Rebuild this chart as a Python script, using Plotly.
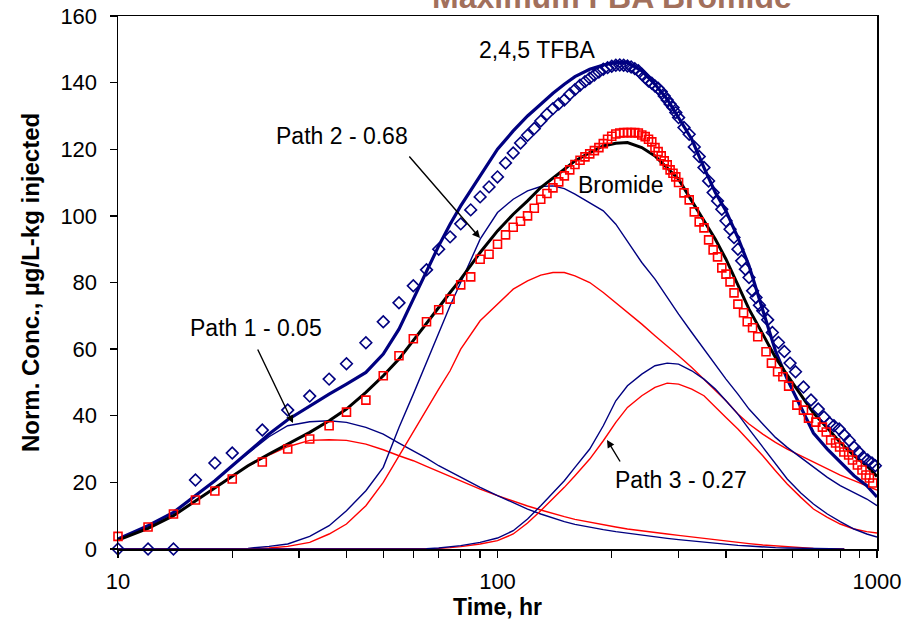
import plotly.graph_objects as go

# ---------------- data ----------------
# observed 2,4,5 TFBA (diamonds)
tfba_obs_t = [10, 12, 14, 16, 18, 20, 24, 28, 32, 36,
              40, 45, 50, 55, 60, 65, 70, 75, 80, 85,
              90, 95, 100, 105, 110, 115, 120, 125, 130, 135,
              140, 145, 150, 155, 160, 165, 170, 175, 180, 185,
              190, 195, 200, 205, 210, 215, 220, 225, 230, 235,
              240, 245, 250, 255, 260, 265, 270, 275, 280, 285,
              290, 295, 300, 310, 320, 330, 340, 350, 360, 370,
              380, 390, 400, 410, 420, 430, 440, 450, 460, 470,
              480, 490, 500, 515, 530, 550, 570, 590, 610, 640,
              670, 700, 725, 750, 770, 795, 820, 845, 870, 895,
              920, 945, 970, 990]
tfba_obs = [0, 0, 0, 20.7, 25.8, 28.8, 35.7, 41.7, 45.9, 51.0,
            55.6, 61.9, 68.2, 73.9, 79.0, 83.8, 90.0, 93.7, 97.6, 101.8,
            105.7, 108.7, 111.7, 115.9, 118.9, 121.9, 124.2, 126.2, 128.5, 130.5,
            132.2, 133.6, 134.8, 136.5, 137.9, 139.2, 140.3, 141.3, 142.3, 143.2,
            144.0, 144.5, 144.9, 145.2, 145.3, 145.2, 145.0, 144.7, 144.2, 143.6,
            142.5, 141.5, 140.5, 139.8, 139.0, 138.3, 137.3, 136.0, 134.8, 133.6,
            132.5, 131.0, 129.5, 126.5, 124.5, 120.7, 117.8, 114.5, 110.5, 107.0,
            104.5, 102.0, 98.5, 96.0, 93.5, 90.0, 86.5, 84.0, 81.5, 77.5,
            75.5, 73.2, 71.5, 68.8, 65.0, 62.0, 59.3, 55.8, 53.2, 48.6,
            44.7, 42.0, 39.6, 37.8, 37.0, 36.0, 34.2, 32.6, 30.6, 29.1,
            27.6, 26.7, 25.8, 25.0]

# observed bromide (squares)
br_obs_t = [10, 12, 14, 16, 18, 20, 24, 28, 32, 36,
            40, 45, 50, 55, 60, 65, 70, 75, 80, 85,
            90, 95, 100, 105, 110, 115, 120, 125, 130, 135,
            140, 145, 150, 155, 160, 165, 170, 175, 180, 185,
            190, 195, 200, 205, 210, 215, 220, 225, 230, 235,
            240, 245, 250, 255, 260, 265, 270, 275, 280, 285,
            290, 295, 300, 310, 320, 330, 340, 350, 360, 370,
            380, 390, 400, 410, 420, 430, 445, 455, 470, 485,
            510, 527, 547, 565, 585, 615, 640, 660, 690, 718,
            735, 755, 778, 797, 818, 842, 862, 888, 913, 935,
            955, 975]
br_obs = [3.8, 6.6, 10.5, 14.7, 17.4, 21.0, 26.1, 30.0, 33.0, 37.0,
          41.1, 44.7, 52.0, 58.0, 63.1, 68.2, 71.8, 75.0, 79.3, 81.7,
          87.0, 88.5, 91.5, 94.3, 96.6, 98.4, 100.0, 102.3, 105.0, 106.7,
          108.4, 110.2, 112.0, 113.8, 115.4, 116.7, 117.7, 118.6, 119.6, 120.5,
          121.7, 123.0, 123.9, 124.6, 124.9, 125.0, 125.0, 125.0, 125.0, 124.9,
          124.3, 123.8, 123.0, 122.2, 120.5, 119.3, 118.0, 116.5, 115.3, 113.8,
          112.8, 111.7, 110.0, 106.9, 104.8, 101.2, 98.2, 96.4, 92.8, 89.8,
          87.7, 84.4, 82.5, 80.2, 76.9, 73.5, 70.9, 68.2, 66.4, 63.7,
          59.2, 55.8, 53.2, 51.7, 48.9, 43.2, 41.7, 39.3, 38.1, 36.6,
          35.1, 32.7, 31.8, 30.6, 29.1, 28.2, 26.7, 25.2, 23.7, 22.2,
          21.3, 19.8]

# model curves
model_t = [10, 12, 14, 16, 18, 20, 22, 25,
           28, 32, 36, 40, 45, 50, 55, 60,
           65, 70, 75, 80, 90, 100, 110, 120,
           130, 140, 150, 160, 175, 190, 205, 220,
           240, 260, 280, 300, 325, 350, 375, 400,
           430, 460, 500, 540, 580, 630, 680, 740,
           800, 870, 940, 1000]
tfba_total = [3.0, 7.0, 11.0, 16.0, 20.5, 25.0, 29.0, 34.5,
              38.8, 43.0, 46.5, 49.5, 53.0, 58.5, 66.0, 75.0,
              83.5, 91.0, 97.5, 103.0, 112.0, 120.0, 125.5, 130.0,
              133.5, 136.8, 139.5, 141.8, 144.0, 145.3, 146.0, 146.0,
              143.5, 139.5, 135.0, 129.5, 123.0, 114.5, 107.0, 101.5,
              93.5, 85.0, 72.0, 59.5, 51.0, 42.5, 34.8, 30.0,
              26.0, 22.0, 19.0, 15.6]
br_total = [2.7, 6.2, 10.0, 14.5, 18.5, 22.0, 25.0, 28.5,
            31.5, 35.0, 38.5, 42.0, 47.0, 52.0, 57.0, 62.5,
            67.5, 72.5, 77.0, 81.0, 89.0, 95.5, 100.5, 104.5,
            108.5, 111.5, 114.0, 116.5, 119.0, 121.0, 121.8, 122.0,
            120.5, 118.0, 114.5, 111.0, 104.5, 98.5, 93.0, 87.0,
            79.5, 72.0, 64.5, 57.5, 52.2, 46.2, 40.8, 36.3,
            32.0, 28.0, 25.0, 21.8]
tfba_p2 = [0, 0, 0, 0, 0, 0, 0.2, 0.8,
           1.5, 3.8, 7.0, 11.5, 17.5, 24.5, 36.5, 46.5,
           56.0, 65.0, 73.0, 80.0, 93.0, 101.0, 105.0, 107.5,
           108.8, 109.0, 108.2, 106.5, 104.0, 101.5, 97.5, 92.5,
           86.0, 81.0, 75.5, 70.5, 65.0, 60.0, 55.0, 51.0,
           46.5, 42.0, 37.5, 33.5, 30.5, 27.5, 24.5, 21.5,
           19.0, 17.0, 15.0, 13.0]
br_p2 = [0, 0, 0, 0, 0, 0, 0.1, 0.3,
         0.8, 2.0, 4.5, 7.5, 13.0, 20.0, 28.0, 35.5,
         42.0, 48.0, 53.5, 60.0, 68.5, 73.5, 78.0, 80.5,
         82.2, 83.0, 83.0, 82.0, 80.0, 77.0, 74.0, 71.0,
         67.5, 64.0, 61.0, 58.0, 54.5, 51.0, 47.5, 44.5,
         40.5, 37.5, 34.5, 32.0, 30.0, 28.0, 26.0, 24.0,
         22.2, 20.5, 19.0, 17.7]
tfba_p3 = [0, 0, 0, 0, 0, 0, 0, 0,
           0, 0, 0, 0, 0, 0, 0, 0,
           0.1, 0.3, 0.6, 1.0, 2.0, 3.3, 5.5, 9.0,
           13.0, 17.0, 20.5, 24.5, 30.0, 37.0, 44.5, 49.0,
           52.5, 55.0, 55.8, 55.5, 53.5, 51.0, 48.0, 44.5,
           40.5, 36.0, 30.5, 25.5, 21.0, 16.8, 13.5, 10.5,
           8.2, 6.0, 4.5, 3.6]
br_p3 = [0, 0, 0, 0, 0, 0, 0, 0,
         0, 0, 0, 0, 0, 0, 0, 0,
         0, 0.2, 0.4, 0.7, 1.5, 2.5, 4.5, 7.8,
         11.5, 15.0, 18.5, 22.0, 27.0, 32.5, 38.0, 42.5,
         46.0, 48.5, 49.8, 49.5, 48.0, 46.0, 42.5, 39.5,
         36.0, 32.5, 28.0, 23.5, 19.5, 15.5, 12.0, 9.5,
         7.5, 6.0, 5.2, 4.8]

p1_t = [10, 12, 14, 16, 18, 20, 22, 25,
        28, 32, 36, 40, 45, 50, 55, 60,
        65, 70, 75, 80, 90, 100, 110, 120,
        130, 140, 150, 160, 175, 190, 205, 220,
        240, 260, 280, 300, 325, 350, 375, 400,
        430, 460, 500, 540, 580, 630, 680, 740,
        820]
tfba_p1 = [3.0, 7.0, 11.0, 16.0, 20.5, 25.0, 28.8, 33.7,
           37.0, 38.2, 38.5, 38.0, 36.5, 34.5, 31.8, 29.5,
           27.3, 25.0, 23.2, 21.5, 18.5, 16.0, 13.8, 12.0,
           10.5, 9.2, 8.2, 7.4, 6.5, 5.8, 5.2, 4.7,
           4.1, 3.6, 3.2, 2.8, 2.4, 2.0, 1.7, 1.4,
           1.1, 0.9, 0.6, 0.4, 0.3, 0.2, 0.1, 0.05,
           0.0]
br_p1 = [2.7, 6.2, 10.0, 14.5, 18.5, 22.0, 24.9, 28.2,
         30.7, 32.6, 32.8, 32.6, 31.5, 29.8, 28.0, 26.5,
         24.8, 23.2, 21.7, 20.3, 18.0, 16.0, 14.3, 12.9,
         11.7, 10.6, 9.7, 8.9, 8.0, 7.2, 6.6, 6.0,
         5.4, 4.9, 4.5, 4.1, 3.6, 3.2, 2.8, 2.4,
         2.0, 1.6, 1.2, 0.9, 0.6, 0.4, 0.2, 0.1,
         0.0]

x_tick_vals = [10, 100, 1000]
x_tick_text = ["10", "100", "1000"]
x_minor_vals = [20, 30, 40, 50, 60, 70, 80, 90,
                200, 300, 400, 500, 600, 700, 800, 900]

# ---------------- styling ----------------
NAVY = "#000080"
RED = "#FF0000"
FONT = "Liberation Sans, Arial, sans-serif"

W, H = 913, 625
L, R, T, B = 118, 877, 16, 549   # plot area in pixels


def paper(xp, yp):
    return (xp - L) / (R - L), (B - yp) / (B - T)


fig = go.Figure()

def thin(x, y, color):
    fig.add_trace(go.Scatter(x=x, y=y, mode="lines",
                             line=dict(color=color, width=1.4),
                             hoverinfo="skip", showlegend=False))

thin(p1_t, br_p1, RED)
thin(p1_t, tfba_p1, NAVY)
thin(model_t, br_p2, RED)
thin(model_t, tfba_p2, NAVY)
thin(model_t, br_p3, RED)
thin(model_t, tfba_p3, NAVY)

fig.add_trace(go.Scatter(x=model_t, y=tfba_total, mode="lines",
                         line=dict(color=NAVY, width=3.2), showlegend=False))
fig.add_trace(go.Scatter(x=model_t, y=br_total, mode="lines",
                         line=dict(color="black", width=3.0), showlegend=False))

fig.add_trace(go.Scatter(x=tfba_obs_t, y=tfba_obs, mode="markers",
                         marker=dict(symbol="diamond-open", size=9, color=NAVY,
                                     line=dict(width=1.6, color=NAVY)),
                         cliponaxis=False, showlegend=False))
fig.add_trace(go.Scatter(x=br_obs_t, y=br_obs, mode="markers",
                         marker=dict(symbol="square-open", size=8, color=RED,
                                     line=dict(width=1.6, color=RED)),
                         cliponaxis=False, showlegend=False))

annotations = []

def label(text, xp, yp, size=23, weight="normal", **kw):
    px_, py_ = paper(xp, yp)
    d = dict(text=text, x=px_, y=py_, xref="paper", yref="paper",
             showarrow=False, xanchor="center", yanchor="middle",
             font=dict(family=FONT, size=size, color="black", weight=weight))
    d.update(kw)
    annotations.append(d)

def arrow(head, tail):
    hx, hy = paper(*head)
    annotations.append(dict(text="", x=hx, y=hy, xref="paper", yref="paper",
                            showarrow=True, ax=tail[0] - head[0], ay=tail[1] - head[1],
                            arrowhead=2, arrowsize=1.1, arrowwidth=1.4,
                            arrowcolor="black", standoff=0, startstandoff=0))

label("2,4,5 TFBA", 537, 50)
label("Path 2 - 0.68", 342, 136)
label("Bromide", 621, 185)
label("Path 1 - 0.05", 256, 328)
label("Path 3 - 0.27", 681, 480)

arrow((480, 238), (408, 155))
arrow((293, 423), (257, 348))
arrow((607, 440), (621, 463))

# axis titles
label("Time, hr", 497, 607, size=23, weight="bold")
label("Norm. Conc., µg/L-kg injected", 30, 283, size=24, weight="bold", textangle=-90)

# cut-off slide title at the very top
annotations.append(dict(text="Maximum FBA Bromide", x=(612 - L) / (R - L), y=1,
                        xref="paper", yref="paper", xanchor="center", yanchor="bottom",
                        yshift=-1, showarrow=False,
                        font=dict(family=FONT, size=32, color="#A2705C", weight="bold")))

fig.update_layout(
    width=W, height=H,
    margin=dict(l=L, r=W - R, t=T, b=H - B, pad=0, autoexpand=False),
    paper_bgcolor="white", plot_bgcolor="white",
    annotations=annotations,
    showlegend=False,
    hovermode=False,
    xaxis=dict(type="log", range=[1, 3],
               tickvals=x_tick_vals, ticktext=x_tick_text,
               ticks="outside", ticklen=7, tickwidth=1.3, tickcolor="black",
               minor=dict(ticks="outside", ticklen=7, tickwidth=1.3, tickcolor="black",
                          tickvals=x_minor_vals, showgrid=False),
               showline=True, linecolor="black", linewidth=1.5, mirror=True,
               showgrid=False, zeroline=False,
               tickfont=dict(family=FONT, size=22, color="black"),
               ticklabelstandoff=5),
    yaxis=dict(range=[0, 160], dtick=20, tick0=0,
               ticks="outside", ticklen=7, tickwidth=1.3, tickcolor="black",
               showline=True, linecolor="black", linewidth=1.5, mirror=True,
               showgrid=False, zeroline=False,
               tickfont=dict(family=FONT, size=22, color="black"),
               ticklabelstandoff=8),
)

fig.write_html("out.html",
               config={"displayModeBar": False, "staticPlot": True},
               post_script="document.body.style.margin='0px';"
                           "document.body.style.overflow='hidden';")
